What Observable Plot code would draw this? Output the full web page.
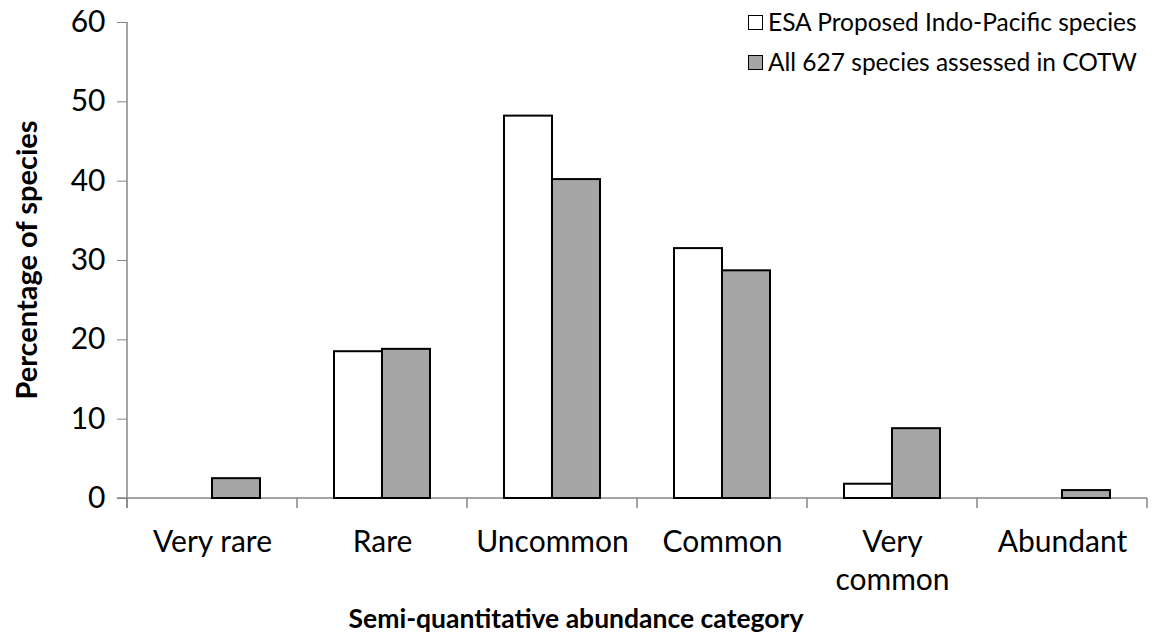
<!DOCTYPE html>
<html><head><meta charset="utf-8">
<script src="https://cdn.jsdelivr.net/npm/d3@7"></script>
<script src="https://cdn.jsdelivr.net/npm/@observablehq/plot@0.6"></script>
<style>
body{margin:0;background:#fff;font-family:Lato,"Open Sans",sans-serif;color:#000;}
#wrap{position:relative;width:1152px;height:641px;overflow:hidden;}
#legend{position:absolute;left:748px;top:2px;font-size:24.5px;line-height:40px;}
#legend .item{display:flex;align-items:center;white-space:nowrap;}
#legend .sw{width:13px;height:13px;border:1.5px solid #000;margin-right:5px;flex:none;}
#xtitle{position:absolute;left:576px;top:602px;transform:translateX(-50%);font-weight:bold;font-size:26.5px;white-space:nowrap;}
#ytitle{position:absolute;left:25px;top:260px;transform:translate(-50%,-50%) rotate(-90deg);font-weight:bold;font-size:29px;white-space:nowrap;}
</style></head><body><div id="wrap"></div>
<script>
const categories = ["Very rare","Rare","Uncommon","Common","Very common","Abundant"];
const categoryLabels = ["Very rare","Rare","Uncommon","Common","Very\ncommon","Abundant"];
const seriesNames = ["ESA Proposed Indo-Pacific species","All 627 species assessed in COTW"];
const esaValues = [0,18.5,48.2,31.5,1.8,0];
const cotwValues = [2.5,18.8,40.2,28.7,8.8,1.0];
const seriesColors = ["#ffffff","#a6a6a6"];
const yTicks = [0,10,20,30,40,50,60];
const xTitle = "Semi-quantitative abundance category";
const yTitle = "Percentage of species";

const data = categories.flatMap((c,i)=>[
  {category:c, series:seriesNames[0], value:esaValues[i]},
  {category:c, series:seriesNames[1], value:cotwValues[i]}
]).filter(d => d.value > 0);

const chart = Plot.plot({
  width:1152, height:641,
  marginLeft:125, marginRight:4, marginTop:22, marginBottom:143,
  style:{fontFamily:"Lato, 'Open Sans', sans-serif", fontSize:"30px", color:"#000", background:"transparent", overflow:"visible"},
  fx:{domain:categories, paddingInner:0, paddingOuter:0, label:null},
  x:{domain:seriesNames, paddingInner:0, paddingOuter:0.74, axis:null},
  y:{domain:[0,60]},
  color:{domain:seriesNames, range:seriesColors},
  marks:[
    Plot.axisY(yTicks, {tickSize:10, tickPadding:12, stroke:"#868686", fill:"#000", fontSize:30, label:null}),
    Plot.axisFx({anchor:"bottom", tickSize:0, tickPadding:27, fontSize:30, lineHeight:1.25, label:null,
      tickFormat: d => categoryLabels[categories.indexOf(d)]}),
    Plot.barY(data, {fx:"category", x:"series", y:"value", fill:"series", stroke:"#000", strokeWidth:2})
  ]
});

const wrap = document.getElementById("wrap");
wrap.appendChild(chart);

// axis lines and category boundary ticks, positioned from Plot's scales
const fx = chart.scale("fx"), y = chart.scale("y");
const svg = d3.select(chart);
const starts = categories.map(c => fx.apply(c));
const bounds = [...starts, starts[starts.length-1] + fx.bandwidth];
const y0 = y.apply(0), yTop = y.apply(60);
const g = svg.append("g").attr("stroke","#868686").attr("stroke-width",1.5);
g.append("line").attr("x1",bounds[0]-10).attr("x2",bounds[bounds.length-1]).attr("y1",y0).attr("y2",y0);
g.append("line").attr("x1",bounds[0]).attr("x2",bounds[0]).attr("y1",yTop).attr("y2",y0+10);
bounds.forEach(b => g.append("line").attr("x1",b).attr("x2",b).attr("y1",y0).attr("y2",y0+10));
svg.selectAll("g[aria-label='bar']").raise();

// legend
const legend = document.createElement("div");
legend.id = "legend";
seriesNames.forEach((s,i) => {
  const it = document.createElement("div"); it.className = "item";
  const sw = document.createElement("span"); sw.className = "sw"; sw.style.background = seriesColors[i];
  const tx = document.createElement("span"); tx.textContent = s;
  it.appendChild(sw); it.appendChild(tx); legend.appendChild(it);
});
wrap.appendChild(legend);

const xt = document.createElement("div"); xt.id = "xtitle"; xt.textContent = xTitle; wrap.appendChild(xt);
const yt = document.createElement("div"); yt.id = "ytitle"; yt.textContent = yTitle; wrap.appendChild(yt);
</script>
</body></html>
